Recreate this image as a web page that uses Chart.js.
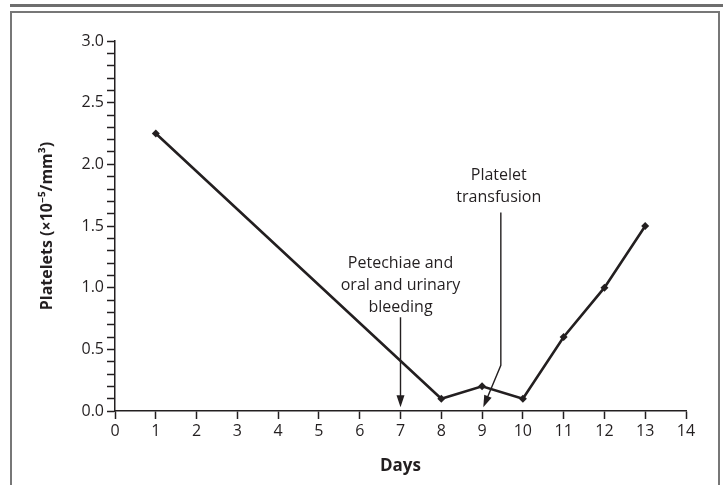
<!DOCTYPE html>
<html>
<head>
<meta charset="utf-8">
<script src="https://cdn.jsdelivr.net/npm/chart.js@4/dist/chart.umd.min.js"></script>
<style>
  body { margin: 0; background: #fff; }
  #wrap { position: relative; width: 723px; height: 485px; overflow: hidden; }
  #topBar { position: absolute; left: 10px; top: 4px; width: 713px; height: 3px; background: #6e6e6e; }
  #box { position: absolute; left: 10px; top: 11px; width: 706px; height: 500px; border: 2px solid #777; box-sizing: content-box; }
  canvas { position: absolute; left: 0; top: 0; }
</style>
</head>
<body>
<div id="wrap">
  <canvas id="plateletChart" width="723" height="485"></canvas>
  <div id="topBar"></div>
  <div id="box"></div>
</div>
<script>
// data
const days = [1, 8, 9, 10, 11, 12, 13];
const platelets = [2.25, 0.1, 0.2, 0.1, 0.6, 1.0, 1.5];

// annotation text + arrow anchors (data units)
const bleedingText = ["Petechiae and", "oral and urinary", "bleeding"];
const bleedingTextY = [1.2, 1.02, 0.84];
const bleedingArrow = { x: 7, yFrom: 0.76, yTo: 0.03 };

const transfusionText = ["Platelet", "transfusion"];
const transfusionTextX = 9.41;
const transfusionTextY = [1.91, 1.73];
const transfusionArrow = { x: 9.46, yFrom: 1.61, yBend: 0.37, xTo: 9.03, yTo: 0.03 };

const ink = '#231f20';
const fontFamily = "'Open Sans', 'Noto Sans', sans-serif";

///////////////////////////////////////////

function arrowHead(ctx, x1, y1, x2, y2) {
  const ang = Math.atan2(y2 - y1, x2 - x1);
  const len = 12, half = 4;
  ctx.beginPath();
  ctx.moveTo(x2, y2);
  ctx.lineTo(x2 - len * Math.cos(ang) + half * Math.sin(ang), y2 - len * Math.sin(ang) - half * Math.cos(ang));
  ctx.lineTo(x2 - len * Math.cos(ang) - half * Math.sin(ang), y2 - len * Math.sin(ang) + half * Math.cos(ang));
  ctx.closePath();
  ctx.fill();
}

const annotationPlugin = {
  id: 'annotations',
  afterDatasetsDraw(chart) {
    const ctx = chart.ctx;
    const xs = chart.scales.x, ys = chart.scales.y;
    ctx.save();
    ctx.fillStyle = ink;
    ctx.strokeStyle = ink;
    ctx.lineWidth = 1.4;
    ctx.font = "16px " + fontFamily;
    ctx.textAlign = 'center';
    ctx.textBaseline = 'middle';

    for (let i = 0; i < bleedingText.length; i++) {
      ctx.fillText(bleedingText[i], xs.getPixelForValue(bleedingArrow.x), ys.getPixelForValue(bleedingTextY[i]));
    }
    for (let i = 0; i < transfusionText.length; i++) {
      ctx.fillText(transfusionText[i], xs.getPixelForValue(transfusionTextX), ys.getPixelForValue(transfusionTextY[i]));
    }

    // bleeding arrow
    let ax = xs.getPixelForValue(bleedingArrow.x);
    let ay1 = ys.getPixelForValue(bleedingArrow.yFrom);
    let ay2 = ys.getPixelForValue(bleedingArrow.yTo);
    ctx.beginPath();
    ctx.moveTo(ax, ay1);
    ctx.lineTo(ax, ay2 - 6);
    ctx.stroke();
    arrowHead(ctx, ax, ay1, ax, ay2);

    // transfusion arrow (vertical then bent)
    let tx = xs.getPixelForValue(transfusionArrow.x);
    let ty1 = ys.getPixelForValue(transfusionArrow.yFrom);
    let tyb = ys.getPixelForValue(transfusionArrow.yBend);
    let tx2 = xs.getPixelForValue(transfusionArrow.xTo);
    let ty2 = ys.getPixelForValue(transfusionArrow.yTo);
    ctx.beginPath();
    ctx.moveTo(tx, ty1);
    ctx.lineTo(tx, tyb);
    ctx.lineTo(tx2 + (tx - tx2) * 0.15, ty2 - (ty2 - tyb) * 0.15);
    ctx.stroke();
    arrowHead(ctx, tx, tyb, tx2, ty2);
    ctx.restore();
  }
};

///////////////////////////////////////////

const plateletChartData = {
  datasets: [
    {
      label: "Platelets",
      data: days.map((d, i) => ({ x: d, y: platelets[i] })),
      borderColor: ink,
      backgroundColor: ink,
      borderWidth: 2.6,
      pointStyle: 'rectRot',
      pointRadius: 4,
      pointBackgroundColor: ink,
      pointBorderWidth: 0,
      tension: 0,
    },
  ],
};

const plateletChartConfig = {
  type: "line",
  data: plateletChartData,
  plugins: [annotationPlugin],
  options: {
    responsive: false,
    animation: false,
    layout: { padding: { left: 0, right: 37, top: 41, bottom: 0 } },
    plugins: {
      legend: { display: false },
      tooltip: { enabled: false },
    },
    scales: {
      x: {
        type: 'linear',
        min: 0,
        max: 14,
        afterFit(scale) { scale.height = 74; },
        border: { color: ink, width: 1.5 },
        grid: { drawOnChartArea: false, drawTicks: true, tickLength: 8, tickColor: ink, tickWidth: 1.5 },
        ticks: {
          stepSize: 1,
          color: ink,
          padding: 3,
          font: { family: fontFamily, size: 16 },
          maxRotation: 0,
        },
        title: {
          display: true,
          text: 'Days',
          color: ink,
          font: { family: fontFamily, size: 17, weight: 'bold' },
          padding: { top: 0, bottom: 9 },
        },
      },
      y: {
        min: 0,
        max: 3,
        afterFit(scale) { scale.width = 115; },
        border: { color: ink, width: 1.5 },
        grid: { drawOnChartArea: false, drawTicks: true, tickLength: 8, tickColor: ink, tickWidth: 1.5 },
        ticks: {
          stepSize: 0.1,
          autoSkip: false,
          color: ink,
          padding: 3,
          font: { family: fontFamily, size: 16 },
          callback: function(value) {
            const t = Math.round(value * 10);
            return t % 5 === 0 ? (t / 10).toFixed(1) : '';
          }
        },
        title: {
          display: true,
          text: 'Platelets (×10⁻⁵/mm³)',
          color: ink,
          font: { family: fontFamily, size: 16, weight: 'bold' },
          padding: { top: 38, bottom: 0 },
        },
      },
    },
  },
};

const plateletChart = new Chart(document.getElementById("plateletChart"), plateletChartConfig);
</script>
</body>
</html>
